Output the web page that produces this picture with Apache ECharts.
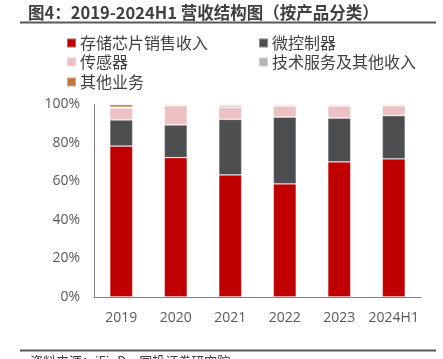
<!DOCTYPE html>
<html><head><meta charset="utf-8">
<script src="https://cdn.jsdelivr.net/npm/echarts@6/dist/echarts.min.js"></script>
<style>html,body{margin:0;padding:0;background:#fff}#c{width:443px;height:359px}</style>
</head><body><div id="c"></div>
<script>
const categories = ['2019','2020','2021','2022','2023','2024H1'];
const seriesNames = ['存储芯片销售收入','微控制器','传感器','技术服务及其他收入','其他业务'];
const memoryChips = [78.4, 72.4, 63.4, 58.8, 70.2, 71.8];
const microcontrollers = [13.6, 17.0, 28.9, 34.7, 22.8, 22.4];
const sensors = [6.2, 10.0, 6.3, 5.8, 6.3, 5.2];
const techServices = [0.4, 0.1, 0.9, 0.2, 0.2, 0.1];
const otherBusiness = [1.4, 0.5, 0.5, 0.5, 0.5, 0.5];
const yTicks = [0, 20, 40, 60, 80, 100];

const colors = ['#C00000', '#4C4E50', '#EBC1C3', '#B4B4B4', '#C0773F'];
const values = [memoryChips, microcontrollers, sensors, techServices, otherBusiness];
const cjk = '"Noto Sans CJK SC", "Noto Sans", sans-serif';

const chart = echarts.init(document.getElementById('c'), null, {renderer: 'canvas'});
const legendPos = [[66, 35], [258, 35], [66, 54], [258, 54], [66, 74]];
chart.setOption({
  animation: false,
  grid: {left: 94, right: 22, top: 104.5, bottom: 62},
  legend: seriesNames.map((n, i) => ({
    data: [n], left: legendPos[i][0], top: legendPos[i][1], icon: 'rect',
    itemWidth: 9, itemHeight: 9, itemGap: 4, padding: 0,
    textStyle: {fontFamily: cjk, fontSize: 16, color: '#404040', padding: [0, 0, 0, -1]}
  })),
  xAxis: {
    type: 'category', data: categories,
    axisLine: {lineStyle: {color: '#7f7f7f', width: 1}},
    axisTick: {show: false},
    axisLabel: {interval: 0, color: '#595959', fontSize: 14, fontFamily: '"Open Sans", sans-serif', margin: 14}
  },
  yAxis: {
    type: 'value', min: yTicks[0], max: yTicks[yTicks.length - 1], interval: 20,
    axisLine: {show: true, lineStyle: {color: '#7f7f7f', width: 1}},
    axisTick: {show: false},
    splitLine: {show: false},
    axisLabel: {color: '#595959', fontSize: 14, fontFamily: '"Open Sans", sans-serif', margin: 14, formatter: '{value}%'}
  },
  series: seriesNames.map((n, i) => ({
    name: n, type: 'bar', stack: 'total', data: values[i], barWidth: 23,
    itemStyle: {color: colors[i], borderColor: 'rgba(255,255,255,0.35)', borderWidth: 0.8}
  })),
  graphic: [
    {type: 'text', left: 28, top: 4, style: {text: '图4：2019-2024H1 营收结构图（按产品分类）', font: 'bold 16.5px ' + cjk, fill: '#404040'}},
    {type: 'line', shape: {x1: 20, y1: 22.5, x2: 436, y2: 22.5}, style: {stroke: '#595959', lineWidth: 2}},
    {type: 'line', shape: {x1: 20, y1: 350.5, x2: 436, y2: 350.5}, style: {stroke: '#595959', lineWidth: 2}},
    {type: 'text', left: 30, top: 355, style: {text: '资料来源：iFinD，国投证券研究院', font: '13px ' + cjk, fill: '#404040'}}
  ]
});
</script></body></html>
